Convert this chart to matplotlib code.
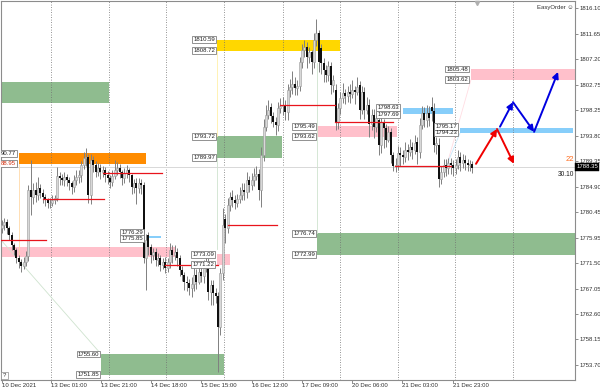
import matplotlib
matplotlib.use('Agg')
import numpy as np
import matplotlib.pyplot as plt

opens = [1777.7,1778.2,1778.7,1777.7,1776.4,1774.7,1773.8,1772.4,1771.7,1771.0,1771.7,1772.8,1784.3,1783.1,1784.3,1783.4,1784.7,1783.8,1783.1,1782.6,
    1782.1,1782.1,1782.6,1782.9,1786.8,1786.4,1786.1,1786.6,1786.1,1785.5,1784.8,1786.1,1786.6,1786.9,1788.7,1789.9,1790.1,1783.4,1789.6,1788.7,
    1787.5,1788.2,1787.5,1787.8,1786.9,1786.4,1785.7,1786.8,1787.8,1788.2,1787.5,1786.4,1787.3,1787.8,1786.9,1784.8,1785.5,1784.7,1785.5,1785.2,
    1772.4,1776.4,1774.3,1772.9,1773.5,1772.1,1772.4,1771.2,1771.7,1770.7,1771.7,1773.8,1772.9,1773.5,1772.4,1770.3,1769.4,1768.2,1768.0,1767.2,
    1767.9,1769.4,1768.2,1769.9,1769.3,1770.7,1771.7,1766.5,1767.7,1766.3,1765.8,1760.3,1769.8,1779.3,1777.7,1781.7,1783.1,1782.6,1782.1,1782.7,
    1783.4,1784.3,1784.0,1786.1,1785.2,1786.1,1786.8,1787.1,1784.3,1790.4,1795.4,1797.5,1798.9,1797.3,1796.2,1795.7,1798.7,1799.0,1799.2,1798.0,
    1801.8,1802.4,1802.9,1802.2,1802.5,1806.7,1808.8,1809.4,1807.6,1808.5,1806.7,1810.6,1811.8,1809.2,1806.6,1805.3,1804.5,1806.0,1802.7,1801.8,
    1796.2,1798.7,1800.4,1801.3,1800.8,1801.5,1801.1,1801.8,1801.5,1802.7,1798.3,1801.5,1798.3,1799.2,1795.9,1797.5,1795.4,1796.6,1792.2,1796.2,
    1795.2,1793.1,1794.5,1790.4,1788.5,1788.7,1790.8,1790.4,1790.1,1791.3,1791.0,1791.9,1791.3,1792.7,1791.0,1795.7,1797.8,1796.6,1797.8,1798.9,
    1798.2,1792.2,1792.2,1786.2,1787.5,1788.7,1788.2,1789.0,1788.7,1788.2,1788.7,1790.1,1789.0,1789.6,1789.0,1788.7,1788.9]
closes = [1778.2,1778.7,1777.7,1776.4,1774.7,1773.8,1772.4,1771.7,1771.0,1771.7,1772.8,1784.3,1783.1,1784.3,1783.4,1784.7,1783.8,1783.1,1782.6,1782.1,
    1782.1,1782.6,1782.9,1786.8,1786.4,1786.1,1786.6,1786.1,1785.5,1784.8,1786.1,1786.6,1786.9,1788.7,1789.9,1790.1,1783.4,1789.6,1788.7,1787.5,
    1788.2,1787.5,1787.8,1786.9,1786.4,1785.7,1786.8,1787.8,1788.2,1787.5,1786.4,1787.3,1787.8,1786.9,1784.8,1785.5,1784.7,1785.5,1785.2,1772.4,
    1775.6,1774.3,1772.9,1773.5,1772.1,1772.4,1771.2,1771.7,1770.7,1771.7,1773.8,1772.9,1773.5,1772.4,1770.3,1769.4,1768.2,1768.0,1767.2,1767.9,
    1769.4,1768.2,1769.9,1769.3,1770.7,1771.7,1766.5,1767.7,1766.3,1765.8,1760.3,1769.8,1778.2,1777.7,1781.7,1783.1,1782.6,1782.1,1782.7,1783.4,
    1784.3,1784.0,1786.1,1785.2,1786.1,1786.8,1787.1,1784.3,1790.4,1795.4,1797.5,1798.3,1797.3,1796.2,1795.7,1798.7,1799.0,1799.2,1798.0,1801.8,
    1802.4,1802.9,1802.2,1802.5,1806.7,1808.8,1809.4,1807.6,1808.5,1806.7,1810.6,1811.8,1806.7,1806.6,1805.3,1804.5,1806.0,1802.7,1803.6,1796.2,
    1798.7,1800.4,1801.3,1800.8,1801.5,1801.1,1801.8,1801.5,1802.4,1798.3,1801.5,1798.3,1799.2,1795.9,1797.5,1795.4,1796.9,1792.2,1796.2,1795.2,
    1793.1,1794.5,1790.4,1788.5,1788.7,1790.8,1790.4,1790.1,1791.3,1791.0,1791.9,1791.3,1792.5,1791.0,1795.7,1797.8,1796.6,1797.8,1796.9,1798.2,
    1792.2,1792.5,1786.2,1787.5,1788.7,1788.2,1789.0,1788.7,1788.2,1788.7,1790.1,1789.0,1789.6,1789.0,1788.7,1788.9,1788.2]
highs = [1779.0,1779.5,1779.2,1778.0,1776.9,1775.0,1774.2,1772.9,1772.2,1772.6,1773.6,1785.2,1789.6,1785.5,1785.8,1786.6,1785.4,1784.5,1783.6,1783.0,
    1782.9,1783.4,1783.5,1788.3,1787.5,1787.2,1787.4,1787.2,1786.6,1785.9,1787.0,1787.8,1787.9,1789.4,1790.9,1791.7,1790.6,1790.6,1790.2,1789.4,
    1789.1,1788.9,1788.6,1788.4,1787.7,1787.0,1787.8,1789.5,1789.2,1788.9,1787.9,1788.1,1788.7,1788.2,1787.2,1786.2,1786.4,1786.4,1786.3,1785.8,
    1776.6,1776.9,1774.9,1774.2,1774.1,1773.2,1773.0,1772.4,1772.5,1772.4,1775.0,1774.7,1774.6,1774.1,1773.0,1771.0,1770.0,1769.2,1768.8,1769.0,
    1770.8,1770.4,1771.0,1770.8,1772.0,1773.3,1772.4,1768.6,1768.5,1767.2,1766.5,1770.6,1781.2,1780.2,1782.9,1784.0,1784.4,1783.4,1783.7,1784.8,
    1785.6,1785.5,1787.4,1786.8,1787.3,1788.2,1788.6,1788.0,1791.8,1796.8,1799.2,1800.0,1799.6,1798.0,1797.1,1799.8,1800.4,1800.6,1800.0,1802.9,
    1803.8,1805.2,1804.1,1803.6,1807.6,1809.9,1810.5,1810.3,1809.4,1808.8,1811.8,1814.3,1812.4,1809.8,1807.5,1806.2,1806.9,1806.8,1804.5,1802.9,
    1799.6,1801.5,1803.0,1802.0,1802.6,1802.8,1803.6,1802.6,1804.1,1803.4,1802.5,1802.3,1800.6,1800.2,1798.5,1798.5,1798.2,1797.8,1797.5,1796.8,
    1795.8,1795.6,1795.2,1791.0,1789.9,1792.0,1791.9,1791.4,1792.8,1792.4,1793.2,1792.8,1794.0,1793.6,1796.9,1799.0,1798.9,1799.2,1799.0,1800.6,
    1799.6,1793.6,1793.4,1788.5,1789.8,1789.7,1790.0,1789.9,1789.6,1789.8,1791.3,1790.9,1790.6,1790.4,1789.8,1789.6,1789.4]
lows = [1776.8,1777.4,1776.7,1775.6,1773.8,1773.0,1771.6,1770.6,1770.0,1770.4,1771.0,1771.8,1780.0,1781.9,1782.2,1782.6,1783.0,1782.0,1781.6,1781.2,
    1781.2,1781.6,1781.9,1782.4,1785.2,1785.2,1785.0,1785.0,1784.4,1783.6,1784.0,1785.2,1785.6,1785.8,1788.0,1788.6,1782.0,1781.8,1787.4,1786.6,
    1786.8,1786.2,1786.6,1785.8,1785.4,1784.6,1785.0,1786.2,1787.0,1786.4,1785.2,1785.6,1786.4,1785.8,1783.6,1783.8,1781.8,1783.8,1783.6,1771.6,
    1766.8,1773.0,1771.6,1772.0,1771.0,1771.0,1770.2,1770.4,1769.8,1770.0,1770.6,1771.6,1772.0,1771.0,1769.2,1768.4,1766.8,1766.6,1766.0,1765.6,
    1766.6,1767.0,1767.8,1768.2,1768.0,1770.0,1765.0,1764.2,1764.2,1764.6,1752.4,1758.9,1768.6,1775.0,1776.8,1780.6,1781.4,1781.0,1781.4,1782.0,
    1782.6,1782.6,1783.0,1784.0,1784.4,1785.0,1786.0,1782.6,1781.4,1789.4,1794.6,1796.8,1796.0,1795.4,1794.0,1794.6,1797.8,1797.4,1796.6,1796.6,
    1800.6,1801.2,1801.0,1801.0,1801.6,1805.6,1807.6,1805.6,1806.6,1804.6,1805.6,1809.6,1805.0,1804.6,1803.2,1803.2,1803.4,1801.2,1801.4,1794.9,
    1795.0,1797.6,1799.6,1799.4,1799.8,1799.6,1800.4,1799.4,1801.0,1796.8,1797.6,1796.8,1797.6,1793.6,1794.8,1793.4,1794.4,1790.4,1790.8,1791.6,
    1791.8,1792.8,1789.0,1787.6,1787.4,1787.8,1788.6,1788.8,1789.2,1789.6,1790.2,1789.8,1790.6,1788.8,1790.0,1795.0,1795.4,1795.4,1795.6,1796.4,
    1791.0,1790.6,1784.8,1785.4,1786.6,1786.8,1787.2,1787.2,1786.8,1787.2,1788.0,1787.6,1788.2,1787.9,1787.6,1787.6,1787.3]

# supply/demand zones
zone_left = [-0.5, 7.1, 89.6, 89.6, 195.4, 167.1, 131.25, 190.8, 131.25, 60.4, -0.5, 89.6, 41.25]
zone_right = [44.6, 60.2, 140.8, 116.7, 239, 187.9, 164.6, 237.9, 239, 66.25, 72.7, 94.8, 92.7]
zone_top = [1803.2, 1790.77, 1810.59, 1793.72, 1805.48, 1798.63, 1795.49, 1795.17, 1776.74, 1776.29, 1774.3, 1773.09, 1755.60]
zone_bottom = [1799.6, 1788.95, 1808.72, 1789.97, 1803.62, 1797.69, 1793.62, 1794.23, 1772.99, 1775.85, 1772.6, 1771.22, 1751.85]
zone_colors = ['#8FBC8F', '#FF8C00', '#FFD700', '#8FBC8F', '#FFC0CB', '#87CEFA', '#FFC0CB', '#87CEFA', '#8FBC8F', '#87CEFA', '#FFC0CB', '#FFC0CB', '#8FBC8F']

# red levels
level_left = [42.1, -0.4, 17.1, 67.9, 94.2, 115.8, 138.75, 163.75]
level_right = [66.7, 18.3, 42.5, 90, 114.6, 138.75, 162.9, 187.1]
level_price = [1787.3, 1775.6, 1782.8, 1771.1, 1778.2, 1799.2, 1796.2, 1788.6]

# boxed price labels
label_text = ['90.77', '88.95', '1810.59', '1808.72', '1793.72', '1789.97', '1776.29', '1775.85', '1773.09', '1771.22',
              '1755.60', '1751.85', '1776.74', '1772.99', '1805.48', '1803.62', '1798.63', '1797.69', '1795.49', '1793.62', '1795.17', '1794.23']
label_right = [5.8, 5.8, 88.8, 88.8, 88.8, 88.8, 58.7, 58.7, 88.4, 88.4, 40.4, 40.4, 130.4, 130.4, 194.2, 194.2, 165.5, 165.5, 130.4, 130.4, 189.6, 189.6]
label_price = [1790.77, 1788.95, 1810.59, 1808.72, 1793.72, 1789.97, 1776.9, 1775.9, 1773.1, 1771.2, 1755.6, 1751.95, 1776.74, 1772.99, 1805.5, 1803.7, 1798.7, 1797.6, 1795.49, 1793.62, 1795.4, 1794.3]
label_color = ['#202020', '#d03010'] + ['#202020'] * 20

sep_bars = [20.6, 44.6, 68.5, 92.7, 116.9, 140.8, 165, 188.75, 212.9]
time_bars = [0, 20.4, 41.25, 62.1, 82.9, 104.2, 125, 145.8, 166.7, 187.9]
time_labels = ['10 Dec 2021', '13 Dec 01:00', '13 Dec 21:00', '14 Dec 18:00', '15 Dec 15:00',
               '16 Dec 12:00', '17 Dec 09:00', '20 Dec 06:00', '21 Dec 03:00', '21 Dec 23:00']
price_ticks = [1816.10, 1811.65, 1807.20, 1802.75, 1798.25, 1793.80, 1789.35, 1784.90, 1780.45, 1775.95, 1771.50, 1767.05, 1762.60, 1758.15, 1753.70]
bid = 1788.35

red_x = [197.5, 206.25]
red_y = [1788.9, 1795.0]
red2_x = [206.25, 213.3]
red2_y = [1795.0, 1788.9]
blue_x = [207.5, 212.9, 221.7, 231.7]
blue_y = [1795.4, 1799.7, 1794.5, 1805.0]

# thin trend lines
thin_x0 = [7.1, 89.6, 89.6, 131.25, -0.5, 185.5, 185.5]
thin_y0 = [1788.95, 1808.72, 1789.97, 1806.5, 1775.6, 1788.9, 1788.9]
thin_x1 = [7.1, 89.6, 89.6, 131.25, 41.25, 195.4, 190.8]
thin_y1 = [1772.6, 1793.72, 1774.0, 1776.74, 1755.6, 1803.62, 1794.23]
thin_c = ['#FFD9A8', '#FFF0A8', '#CFE3CF', '#CFE3CF', '#CFE3CF', '#FFDDE3', '#C8E8FB']

plt.rcParams['font.family'] = ['Liberation Sans', 'DejaVu Sans']
fig = plt.figure(figsize=(6, 3.89), dpi=100)
ax = fig.add_axes([1/600, 1 - 380/389, 574/600, 379/389])
ax.set_xlim(-0.417, 238.75)
ax.set_ylim(1751.05, 1817.41)

for l, r, t, b, c in zip(zone_left, zone_right, zone_top, zone_bottom, zone_colors):
    ax.fill_between([l, r], b, t, color=c, lw=0, zorder=1)
for x in sep_bars:
    ax.axvline(x, color='#707070', lw=0.6, ls=(0, (1, 2)), zorder=2)
ax.axhline(bid, color='#d8d8d8', lw=0.7, zorder=2)
for x0, y0, x1, y1, c in zip(thin_x0, thin_y0, thin_x1, thin_y1, thin_c):
    ax.plot([x0, x1], [y0, y1], color=c, lw=0.6, zorder=2)

x = np.arange(len(closes))
opens = np.array(opens)
closes = np.array(closes)
ax.vlines(x, lows, highs, color='#808080', lw=0.7, zorder=3)
up = closes >= opens
ax.bar(x[up], (closes - opens)[up], bottom=opens[up], width=0.9, color='#d8d8d8', edgecolor='#999999', lw=0.4, zorder=4)
ax.bar(x[~up], (opens - closes)[~up], bottom=closes[~up], width=0.8, color='#101010', lw=0, zorder=4)

for l, r, p in zip(level_left, level_right, level_price):
    ax.plot([l, r], [p, p], color='#e8141c', lw=0.9, zorder=5)

for t, r, p, c in zip(label_text, label_right, label_price, label_color):
    ax.text(r, p, t, fontsize=4.3, ha='right', va='center', color=c, clip_on=True, zorder=6,
            bbox=dict(fc='white', ec='#808080', lw=0.6, boxstyle='square,pad=0.16'))

head = dict(arrowstyle='-|>,head_length=0.4,head_width=0.2', shrinkA=0, shrinkB=0, mutation_scale=9)
ax.annotate('', (red_x[1], red_y[1]), (red_x[0], red_y[0]), zorder=7, arrowprops=dict(color='#f00000', lw=1.4, **head))
ax.annotate('', (red2_x[1], red2_y[1]), (red2_x[0], red2_y[0]), zorder=7, arrowprops=dict(color='#f00000', lw=1.4, **head))
for i in range(3):
    ax.annotate('', (blue_x[i + 1], blue_y[i + 1]), (blue_x[i], blue_y[i]), zorder=7, arrowprops=dict(color='#0000e0', lw=1.4, **head))

ax.text(238.2, 1816.2, 'EasyOrder \u263a', fontsize=4.3, ha='right', va='center', color='#303030', zorder=8)
ax.text(238.2, 1789.6, '22', fontsize=5.5, ha='right', va='center', color='#FF6A1A', zorder=8)
ax.text(238.2, 1787.6, '30.10', fontsize=4.8, ha='right', va='top', color='#202020', zorder=8)
ax.text(0.4, 1751.4, '?', fontsize=4.3, ha='left', va='bottom', color='#303030', zorder=8,
        bbox=dict(fc='white', ec='#8c8c8c', lw=0.5, boxstyle='square,pad=0.25'))
ax.plot([197.8], [1817.1], marker='v', ms=3, color='#b0b0b0', clip_on=False, zorder=8)

for s in ax.spines.values():
    s.set_color('#8c8c8c')
    s.set_linewidth(0.8)
ax.yaxis.tick_right()
ax.set_yticks(price_ticks)
ax.set_yticklabels(['%.2f' % p for p in price_ticks], fontsize=4.3, color='#303030')
ax.tick_params(axis='y', length=2, width=0.5, color='#606060', pad=1)
ax.set_xticks(time_bars)
ax.set_xticklabels(time_labels, fontsize=4.3, color='#303030', ha='left')
ax.tick_params(axis='x', length=2, width=0.5, color='#606060', pad=0.5)

ax.text(1.0025, bid, '%.2f' % bid, transform=ax.get_yaxis_transform(), fontsize=4.3, color='white', va='center', ha='left',
        bbox=dict(fc='black', ec='black', lw=0.3, boxstyle='square,pad=0.2'), zorder=9)

fig.savefig('out.png', dpi=100)
